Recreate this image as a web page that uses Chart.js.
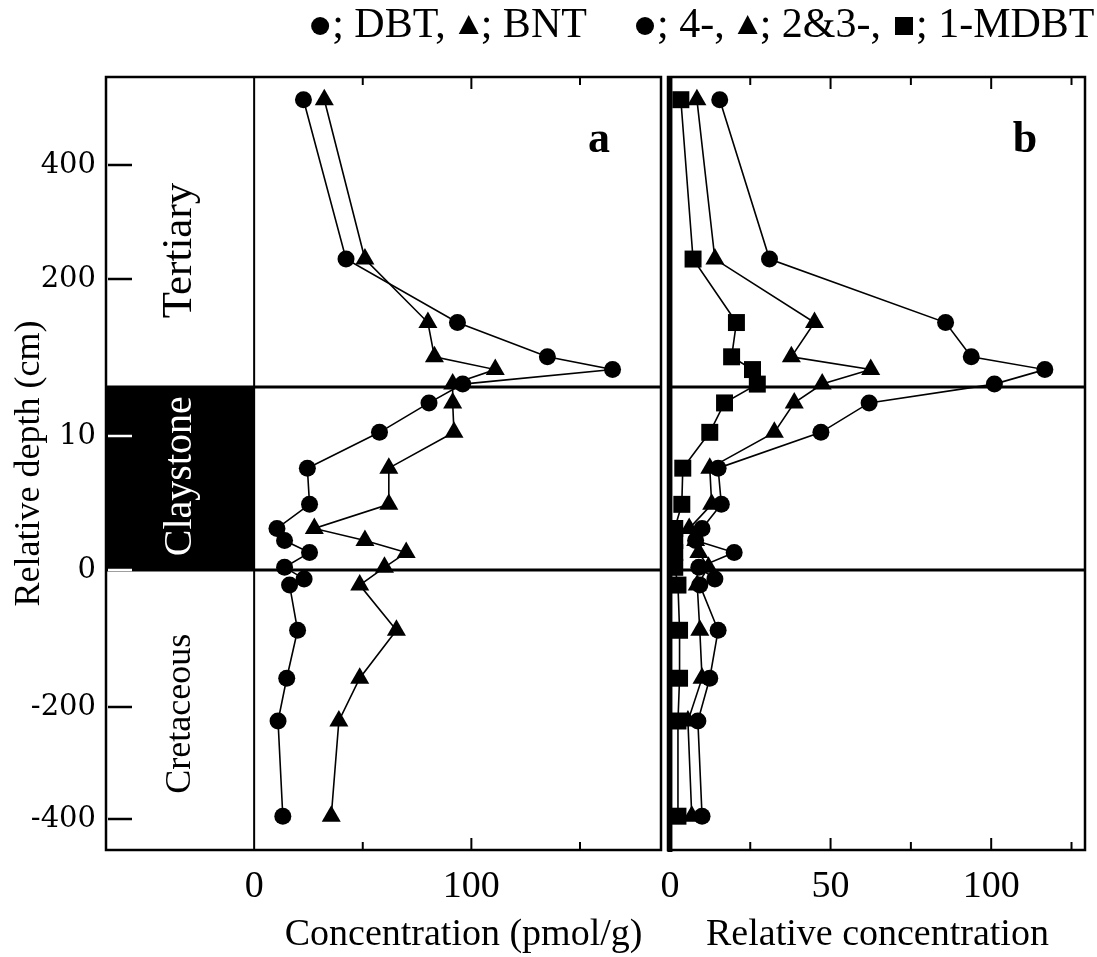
<!DOCTYPE html>
<html>
<head>
<meta charset="utf-8">
<title>DBT profiles across the claystone</title>
<script src="https://cdn.jsdelivr.net/npm/chart.js@4.4.1/dist/chart.umd.min.js"></script>
<style>
  body { margin: 0; background: #fff; }
  #wrap { position: relative; width: 1097px; height: 957px; }
  canvas { position: absolute; top: 0; }
</style>
</head>
<body>
<div id="wrap">
  <canvas id="panelA" width="672" height="957" style="left:0"></canvas>
  <canvas id="panelB" width="497" height="957" style="left:600px"></canvas>
</div>
<script>
// ---- values ----
const depthTicks = [400, 200, 10, 0, -200, -400];
const sampleDepth = [515, 235, 125, 66, 44, 19, 12.7, 10.3, 7.6, 4.9, 3.1, 2.2, 1.3, 0.2, -13, -22, -88, -158, -225, -395];

// panel a, pmol/g
const dbt = [22.7, 42.3, 93.6, 135, 165, 96, 80.5, 57.7, 24.5, 25.5, 10.5, 14, 25.5, 14, 23, 16.3, 20, 15, 11, 13.2];
const bnt = [32.3, 51, 80, 83, 111, 91.4, 91.4, 92, 62, 62, 27.7, 51, 70, 60, null, 48.6, 65.5, 48.6, 39, 35.5];

// panel b, relative concentration
const mdbt4 = [15.5, 31, 85.8, 93.8, 116.7, 101, 62, 47, 15, 16, 10, 8, 20, 9, 14, 9.3, 15, 12.4, 8.7, 10];
const mdbt23 = [8.4, 14, 45, 37.8, 62.5, 47.4, 38.7, 32.5, 12.4, 13, 6, 8, 9, 12, null, 8.5, 9.3, 10, 5.6, 6.8];
const mdbt1 = [3.4, 7.2, 20.7, 19.2, 25.7, 27.2, 17, 12.4, 4, 3.7, 1.5, 1.5, 1.5, 1.5, null, 2.5, 3, 3, 2.5, 2.5];

const concTicks = [0, 50, 100, 150];
const concLabels = ['0', '', '100', ''];
const relTicks = [0, 25, 50, 75, 100, 125];
const relLabels = ['0', '', '50', '', '100', ''];

const formations = ['Tertiary', 'Claystone', 'Cretaceous'];
const formationDepth = [250, 7, -212];
const claystoneTop = 14, claystoneBase = 0;

const legendA = [['circle', '; DBT,'], ['triangle', '; BNT']];
const legendB = [['circle', '; 4-,'], ['triangle', '; 2&3-,'], ['rect', '; 1-MDBT']];

// the depth axis is broken: each section has its own stretch
const axisDepths = [555, 400, 200, 14, 10, 0, -200, -400, -455];
const axisUnits = [773, 685, 571, 463, 414, 280, 143, 31, 0];

function toAxis(d) {
    for (let i = 0; i < axisDepths.length - 1; i++) {
        const d0 = axisDepths[i], d1 = axisDepths[i + 1];
        if (d <= d0 && d >= d1) {
            return axisUnits[i] + (d - d0) * (axisUnits[i + 1] - axisUnits[i]) / (d1 - d0);
        }
    }
    return d > axisDepths[0] ? axisUnits[0] : 0;
}

function points(values) {
    return sampleDepth
        .map((d, i) => values[i] == null ? null : { x: values[i], y: toAxis(d) })
        .filter(Boolean);
}

const FONT = '"Liberation Serif", "Times New Roman", serif';
Chart.defaults.font.family = FONT;
Chart.defaults.color = '#000';

function series(label, values, style, radius) {
    return {
        label: label,
        data: points(values),
        showLine: true,
        borderColor: '#000',
        borderWidth: 1.6,
        backgroundColor: '#000',
        pointStyle: style,
        pointRadius: radius,
        pointBorderWidth: 0,
        tension: 0
    };
}

function line(ctx, x1, y1, x2, y2, w, color) {
    ctx.beginPath();
    ctx.moveTo(x1, y1);
    ctx.lineTo(x2, y2);
    ctx.lineWidth = w;
    ctx.strokeStyle = color || '#000';
    ctx.stroke();
}

function marker(ctx, shape, x, y) {
    ctx.fillStyle = '#000';
    ctx.beginPath();
    if (shape === 'circle') {
        ctx.arc(x, y, 9, 0, Math.PI * 2);
    } else if (shape === 'triangle') {
        ctx.moveTo(x, y - 11);
        ctx.lineTo(x + 10, y + 8);
        ctx.lineTo(x - 10, y + 8);
        ctx.closePath();
    } else {
        ctx.rect(x - 9, y - 9, 18, 18);
    }
    ctx.fill();
}

function drawLegend(ctx, x, y, items) {
    ctx.font = '42px ' + FONT;
    ctx.textAlign = 'left';
    ctx.textBaseline = 'middle';
    items.forEach(([shape, text]) => {
        marker(ctx, shape, x + 9, y);
        ctx.fillStyle = '#000';
        ctx.fillText(text, x + 21, y);
        x += 21 + ctx.measureText(text).width + 14;
    });
}

// inward tick marks on bottom and top edges
function drawTicks(ctx, scale, area, values, labels) {
    values.forEach((v, i) => {
        if (v === 0) return;
        const px = scale.getPixelForValue(v);
        const len = labels[i] ? 12 : 8;
        line(ctx, px, area.bottom, px, area.bottom - len, 2);
        line(ctx, px, area.top, px, area.top + len, 2);
    });
}

function drawBoundaries(ctx, y, area) {
    [claystoneTop, claystoneBase].forEach(d => {
        const py = y.getPixelForValue(toAxis(d));
        line(ctx, area.left, py, area.right, py, 3);
    });
}

const panelAPlugin = {
    id: 'panelA',
    beforeDatasetsDraw(chart) {
        const { ctx, chartArea: a, scales: { x, y } } = chart;
        const x0 = x.getPixelForValue(0);
        ctx.save();
        const yTop = y.getPixelForValue(toAxis(claystoneTop));
        const yBot = y.getPixelForValue(toAxis(claystoneBase));
        ctx.fillStyle = '#000';
        ctx.fillRect(a.left, yTop, x0 - a.left, yBot - yTop);

        ctx.textAlign = 'center';
        ctx.textBaseline = 'middle';
        const cx = (a.left + x0) / 2;
        formations.forEach((name, i) => {
            ctx.save();
            ctx.translate(cx, y.getPixelForValue(toAxis(formationDepth[i])));
            ctx.rotate(-Math.PI / 2);
            ctx.font = (name === 'Cretaceous' ? 36 : name === 'Tertiary' ? 43 : 40) + 'px ' + FONT;
            ctx.fillStyle = name === 'Claystone' ? '#fff' : '#000';
            ctx.fillText(name, 0, 0);
            ctx.restore();
        });
        ctx.restore();
    },
    afterDatasetsDraw(chart) {
        const { ctx, chartArea: a, scales: { x, y } } = chart;
        const x0 = x.getPixelForValue(0);
        ctx.save();
        drawBoundaries(ctx, y, a);
        line(ctx, x0, a.top, x0, a.bottom, 2);
        ctx.lineWidth = 2.5;
        ctx.strokeStyle = '#000';
        ctx.strokeRect(a.left, a.top, a.right - a.left, a.bottom - a.top);

        depthTicks.forEach(d => {
            const py = y.getPixelForValue(toAxis(d));
            const inClay = d <= claystoneTop && d >= claystoneBase;
            line(ctx, a.left + 2, py, a.left + 26, py, 2.5, inClay ? '#fff' : '#000');
        });
        drawTicks(ctx, x, a, concTicks, concLabels);

        drawLegend(ctx, x0 + 57, 26, legendA);

        ctx.fillStyle = '#000';
        ctx.font = 'bold 44px ' + FONT;
        ctx.textAlign = 'center';
        ctx.textBaseline = 'alphabetic';
        ctx.fillText('a', a.right - 62, a.top + 75);

        ctx.font = '38px ' + FONT;
        ctx.textBaseline = 'middle';
        ctx.fillText('Concentration (pmol/g)', (x0 + a.right) / 2 + 6, 935);
        ctx.restore();
    }
};

const panelBPlugin = {
    id: 'panelB',
    afterDatasetsDraw(chart) {
        const { ctx, chartArea: a, scales: { x, y } } = chart;
        const x0 = x.getPixelForValue(0);
        ctx.save();
        drawBoundaries(ctx, y, a);
        ctx.lineWidth = 2.5;
        ctx.strokeStyle = '#000';
        ctx.strokeRect(a.left, a.top, a.right - a.left, a.bottom - a.top);
        line(ctx, x0, a.top, x0, a.bottom + 2, 5);
        drawTicks(ctx, x, a, relTicks, relLabels);

        drawLegend(ctx, a.left - 32, 26, legendB);

        ctx.fillStyle = '#000';
        ctx.font = 'bold 44px ' + FONT;
        ctx.textAlign = 'center';
        ctx.textBaseline = 'alphabetic';
        ctx.fillText('b', a.right - 60, a.top + 75);

        ctx.font = '38px ' + FONT;
        ctx.textBaseline = 'middle';
        ctx.fillText('Relative concentration', (x0 + a.right) / 2, 935);
        ctx.restore();
    }
};

function xAxis(min, max, values, labels) {
    return {
        type: 'linear',
        position: 'bottom',
        min: min,
        max: max,
        grid: { display: false },
        border: { display: false },
        afterBuildTicks: s => { s.ticks = values.map(v => ({ value: v })); },
        afterFit: s => { s.height = 107; },
        ticks: {
            autoSkip: false,
            maxRotation: 0,
            padding: 6,
            font: { size: 38 },
            callback: (v, i) => labels[i]
        }
    };
}

const depthAxis = {
    type: 'linear',
    position: 'left',
    min: 0,
    max: axisUnits[0],
    grid: { display: false },
    border: { display: false },
    afterBuildTicks: s => { s.ticks = depthTicks.map(d => ({ value: toAxis(d) })); },
    afterFit: s => { s.width = 106; },
    ticks: {
        autoSkip: false,
        padding: 2,
        font: { family: '"DejaVu Serif", serif', size: 29 },
        callback: (v, i) => depthTicks[i]
    },
    title: {
        display: true,
        text: 'Relative depth (cm)',
        font: { size: 36 },
        padding: { top: 8, bottom: 0 }
    }
};

const common = {
    responsive: false,
    animation: false,
    events: [],
    plugins: { legend: { display: false }, tooltip: { enabled: false } }
};

new Chart(document.getElementById('panelA'), {
    type: 'scatter',
    data: {
        datasets: [
            series('DBT', dbt, 'circle', 8.5),
            series('BNT', bnt, 'triangle', 11)
        ]
    },
    options: {
        ...common,
        layout: { padding: { top: 77, right: 4, bottom: 0, left: 0 } },
        scales: {
            x: xAxis(-68.2, 187.3, concTicks, concLabels),
            y: depthAxis
        }
    },
    plugins: [panelAPlugin]
});

new Chart(document.getElementById('panelB'), {
    type: 'scatter',
    data: {
        datasets: [
            series('4-MDBT', mdbt4, 'circle', 8.5),
            series('2&3-MDBT', mdbt23, 'triangle', 11),
            series('1-MDBT', mdbt1, 'rect', 12)
        ]
    },
    options: {
        ...common,
        layout: { padding: { top: 77, right: 7, bottom: 0, left: 68 } },
        scales: {
            x: xAxis(-0.6, 129.2, relTicks, relLabels),
            y: { type: 'linear', display: false, min: 0, max: axisUnits[0] }
        }
    },
    plugins: [panelBPlugin]
});
</script>
</body>
</html>
